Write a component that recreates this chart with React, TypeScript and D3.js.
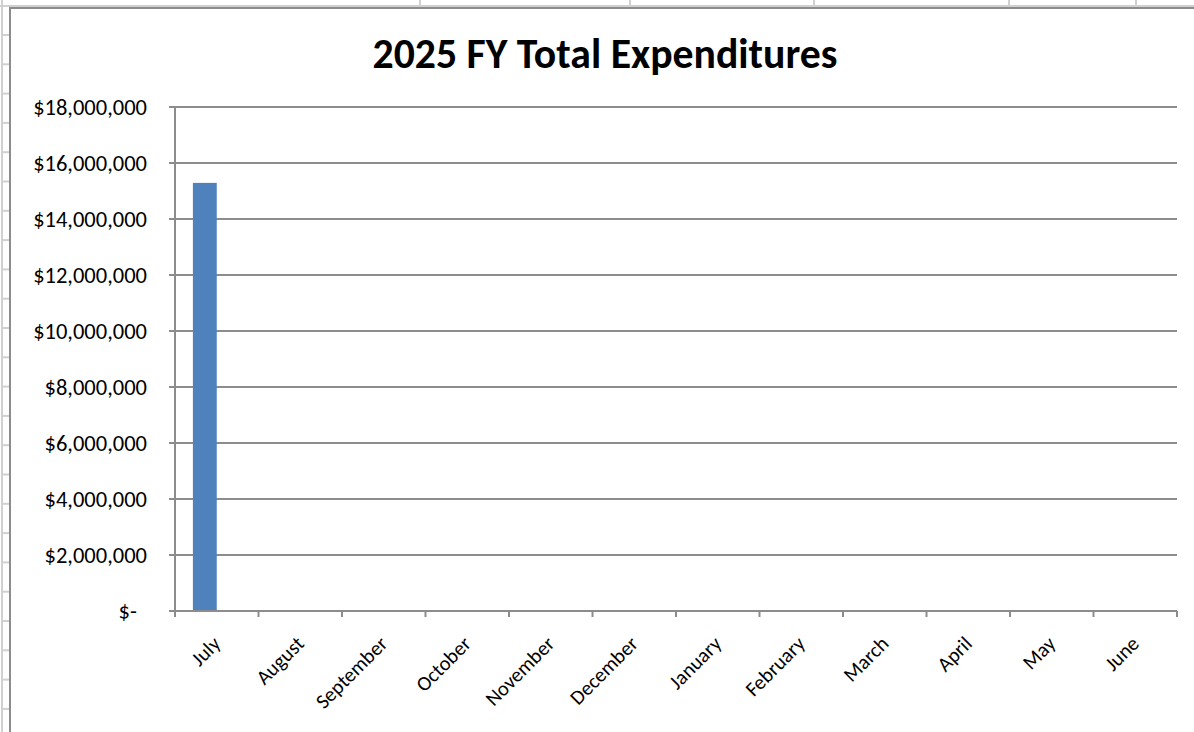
import React from 'react';
import * as d3 from 'd3';

const months = ['July', 'August', 'September', 'October', 'November', 'December', 'January', 'February', 'March', 'April', 'May', 'June'];
const expenditures = [15290000, 0, 0, 0, 0, 0, 0, 0, 0, 0, 0, 0];
const otherSeries = [0, 0, 0, 0, 0, 0, 0, 0, 0, 0, 0, 0];
const seriesNames = ['Expenditures', 'Other'];
const yTicks = [0, 2000000, 4000000, 6000000, 8000000, 10000000, 12000000, 14000000, 16000000, 18000000];
const yTickLabels = ['$-\u00a0\u00a0', '$2,000,000', '$4,000,000', '$6,000,000', '$8,000,000', '$10,000,000', '$12,000,000', '$14,000,000', '$16,000,000', '$18,000,000'];
const title = '2025 FY Total Expenditures';
const sheetColumnEdges = [420, 630, 814, 1009, 1136];

const W = 1194;
const H = 732;
const LEFT = 175;
const RIGHT = 1177;
const TOP = 107;
const BOTTOM = 611;
const FONT = 'Calibri, Carlito, Lato, "Open Sans", sans-serif';
const GRID = '#8c8c8c';

export default function App() {
  const y = d3.scaleLinear().domain([0, 18000000]).range([BOTTOM, TOP]);
  const x = d3.scaleBand<string>().domain(months).range([LEFT, RIGHT]).padding(0);
  const xs = d3.scaleBand<string>().domain(seriesNames).range([0, x.bandwidth()]).paddingInner(0).paddingOuter(0.75);
  const series = [expenditures, otherSeries];

  const rowLines = d3.range(35, H, 29.3);

  return (
    <svg width={W} height={H} style={{ position: 'absolute', left: 0, top: 0, background: '#fff' }}>
      {/* spreadsheet background */}
      <line x1={0} x2={W} y1={6} y2={6} stroke="#d0d0d0" strokeWidth={2} />
      {sheetColumnEdges.map((cx) => (
        <line key={cx} x1={cx} x2={cx} y1={0} y2={6} stroke="#d0d0d0" strokeWidth={2} />
      ))}
      <line x1={2} x2={2} y1={0} y2={H} stroke="#d0d0d0" strokeWidth={2} />
      {rowLines.map((ry) => (
        <line key={ry} x1={2} x2={9} y1={ry} y2={ry} stroke="#d0d0d0" strokeWidth={2} />
      ))}
      {/* chart area */}
      <rect x={10} y={8} width={W + 20} height={H + 20} fill="#fff" stroke={GRID} strokeWidth={2} />

      <text
        x={605}
        y={68}
        textAnchor="middle"
        fontFamily={FONT}
        fontWeight="bold"
        fontSize={42}
        textLength={465}
        lengthAdjust="spacingAndGlyphs"
        fill="#000"
      >
        {title}
      </text>

      {/* gridlines */}
      {yTicks.map((t) => (
        <line key={t} x1={LEFT - 6} x2={RIGHT} y1={y(t)} y2={y(t)} stroke={GRID} strokeWidth={2} />
      ))}

      {/* bars */}
      {months.map((m, i) => (
        <g key={m}>
          {series.map((s, j) => (
            <rect
              key={j}
              x={(x(m) as number) + (xs(seriesNames[j]) as number)}
              y={y(s[i])}
              width={xs.bandwidth()}
              height={BOTTOM - y(s[i])}
              fill={j === 0 ? '#4f81bd' : '#c0504d'}
            />
          ))}
        </g>
      ))}

      {/* axes */}
      <line x1={LEFT} x2={LEFT} y1={TOP} y2={BOTTOM + 6} stroke={GRID} strokeWidth={2} />
      <line x1={LEFT} x2={RIGHT} y1={BOTTOM} y2={BOTTOM} stroke={GRID} strokeWidth={2} />
      {months.map((m) => (
        <line key={m} x1={x(m)} x2={x(m)} y1={BOTTOM} y2={BOTTOM + 6} stroke={GRID} strokeWidth={2} />
      ))}
      <line x1={RIGHT} x2={RIGHT} y1={BOTTOM} y2={BOTTOM + 6} stroke={GRID} strokeWidth={2} />

      {yTicks.map((t, i) => (
        <text
          key={t}
          x={147}
          y={y(t) + 7.5}
          textAnchor="end"
          fontFamily={FONT}
          fontSize={22.5}
          fill="#000"
          style={{ whiteSpace: 'pre' }}
        >
          {yTickLabels[i]}
        </text>
      ))}

      {months.map((m) => {
        const cx = (x(m) as number) + x.bandwidth() / 2 + 5;
        const cy = 645;
        return (
          <text
            key={m}
            transform={`translate(${cx},${cy}) rotate(-45)`}
            textAnchor="end"
            fontFamily={FONT}
            fontSize={20.5}
            fill="#000"
          >
            {m}
          </text>
        );
      })}
    </svg>
  );
}
